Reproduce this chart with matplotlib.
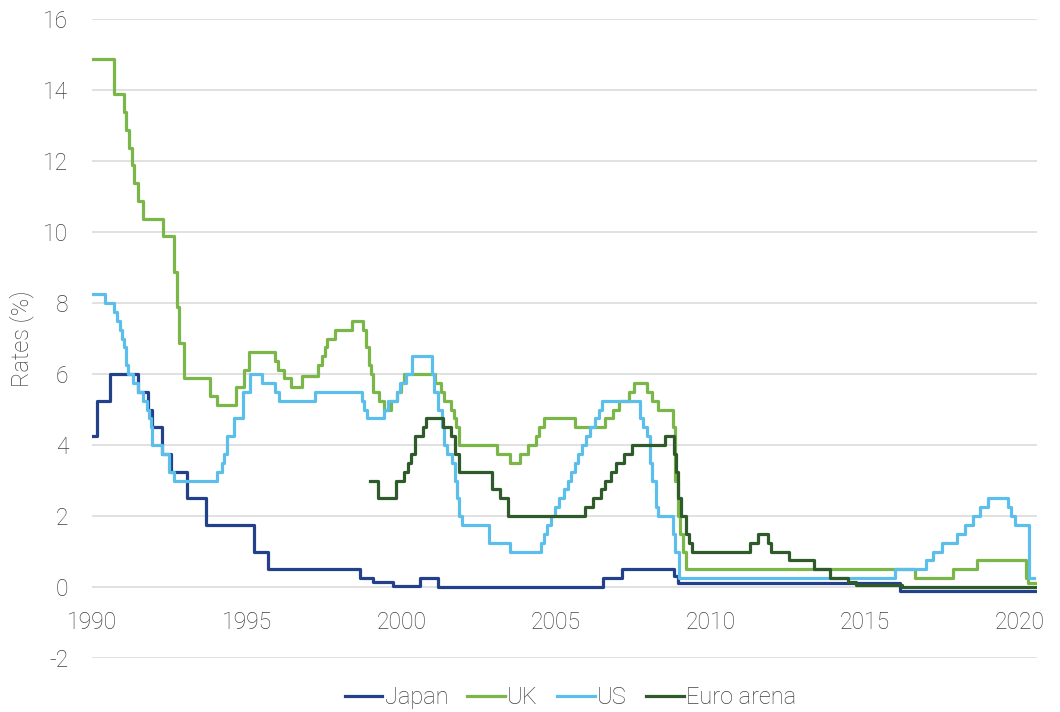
import matplotlib.pyplot as plt

# policy rates, change dates as decimal years (step starts), last entry = end of data
japan_dates = [1990.0, 1990.15, 1990.58, 1991.49, 1991.82, 1991.95, 1992.25, 1992.54,
               1993.07, 1993.69, 1995.24, 1995.68, 1998.66, 1999.08, 1999.73, 2000.6,
               2001.2, 2006.52, 2007.12, 2008.8, 2008.95, 2016.12, 2020.49]
japan_rates = [4.25, 5.25, 6.0, 5.5, 5.0, 4.5, 3.75, 3.25,
               2.5, 1.75, 1.0, 0.5, 0.25, 0.15, 0.03, 0.25,
               0.0, 0.25, 0.5, 0.3, 0.1, -0.1, -0.1]

uk_dates = [1990.0, 1990.7, 1991.05, 1991.1, 1991.2, 1991.28, 1991.35, 1991.5, 1991.65,
            1992.3, 1992.65, 1992.75, 1992.82, 1992.97, 1993.8, 1994.05, 1994.65, 1994.9,
            1995.08, 1995.93, 1996.02, 1996.2, 1996.42, 1996.78, 1997.3, 1997.42, 1997.52,
            1997.6, 1997.85, 1998.42, 1998.75, 1998.85, 1998.95, 1999.02, 1999.1, 1999.28,
            1999.45, 1999.68, 1999.85, 2000.0, 2000.1, 2001.1, 2001.28, 2001.38, 2001.6,
            2001.7, 2001.78, 2001.87, 2003.1, 2003.52, 2003.85, 2004.1, 2004.35, 2004.45,
            2004.6, 2005.6, 2006.6, 2006.85, 2007.05, 2007.35, 2007.52, 2007.95, 2008.1,
            2008.3, 2008.78, 2008.85, 2008.93, 2009.02, 2009.1, 2009.2, 2016.6, 2017.85,
            2018.62, 2020.2, 2020.25, 2020.49]
uk_rates = [14.875, 13.875, 13.375, 12.875, 12.375, 11.875, 11.375, 10.875, 10.375,
            9.875, 8.875, 7.875, 6.875, 5.875, 5.375, 5.125, 5.625, 6.125,
            6.625, 6.375, 6.125, 5.875, 5.625, 5.9375, 6.25, 6.5, 6.75,
            7.0, 7.25, 7.5, 7.25, 6.75, 6.25, 6.0, 5.5, 5.25,
            5.0, 5.25, 5.5, 5.75, 6.0, 5.75, 5.5, 5.25, 5.0,
            4.75, 4.5, 4.0, 3.75, 3.5, 3.75, 4.0, 4.25, 4.5,
            4.75, 4.5, 4.75, 5.0, 5.25, 5.5, 5.75, 5.5, 5.25,
            5.0, 4.5, 3.0, 2.0, 1.5, 1.0, 0.5, 0.25, 0.5,
            0.75, 0.25, 0.1, 0.1]

us_dates = [1990.0, 1990.42, 1990.72, 1990.82, 1990.9, 1990.97, 1991.03, 1991.1, 1991.17,
            1991.32, 1991.49, 1991.65, 1991.78, 1991.85, 1991.9, 1991.95, 1992.25, 1992.5,
            1992.65, 1994.05, 1994.2, 1994.28, 1994.38, 1994.6, 1994.88, 1995.1, 1995.5,
            1995.93, 1996.05, 1997.2, 1998.72, 1998.8, 1998.9, 1999.45, 1999.57, 1999.85,
            1999.97, 2000.15, 2000.35, 2001.0, 2001.05, 2001.2, 2001.3, 2001.38, 2001.48,
            2001.63, 2001.72, 2001.8, 2001.88, 2001.97, 2002.85, 2003.5, 2004.5, 2004.62,
            2004.72, 2004.85, 2004.97, 2005.1, 2005.25, 2005.38, 2005.5, 2005.62, 2005.72,
            2005.85, 2005.97, 2006.1, 2006.25, 2006.38, 2006.5, 2007.72, 2007.8, 2007.95,
            2008.05, 2008.1, 2008.22, 2008.3, 2008.78, 2008.85, 2008.97, 2015.97, 2016.97,
            2017.2, 2017.47, 2017.97, 2018.22, 2018.47, 2018.72, 2018.97, 2019.6, 2019.72,
            2019.85, 2020.3, 2020.45]
us_rates = [8.25, 8.0, 7.75, 7.5, 7.25, 7.0, 6.75, 6.25, 6.0,
            5.75, 5.5, 5.25, 5.0, 4.75, 4.5, 4.0, 3.75, 3.25,
            3.0, 3.25, 3.5, 3.75, 4.25, 4.75, 5.5, 6.0, 5.75,
            5.5, 5.25, 5.5, 5.25, 5.0, 4.75, 5.0, 5.25, 5.5,
            5.75, 6.0, 6.5, 6.0, 5.5, 5.0, 4.5, 4.0, 3.75,
            3.5, 3.0, 2.5, 2.0, 1.75, 1.25, 1.0, 1.25, 1.5,
            1.75, 2.0, 2.25, 2.5, 2.75, 3.0, 3.25, 3.5, 3.75,
            4.0, 4.25, 4.5, 4.75, 5.0, 5.25, 4.75, 4.5, 4.25,
            3.5, 3.0, 2.25, 2.0, 1.5, 1.0, 0.25, 0.5, 0.75,
            1.0, 1.25, 1.5, 1.75, 2.0, 2.25, 2.5, 2.25, 2.0,
            1.75, 0.25, 0.25]

euro_dates = [1999.0, 1999.25, 1999.83, 2000.1, 2000.2, 2000.3, 2000.45, 2000.7, 2000.8,
              2001.35, 2001.6, 2001.72, 2001.87, 2002.93, 2003.2, 2003.45, 2005.95, 2006.2,
              2006.45, 2006.6, 2006.78, 2006.95, 2007.2, 2007.45, 2008.52, 2008.8, 2008.88,
              2008.95, 2009.05, 2009.2, 2009.3, 2009.4, 2011.28, 2011.52, 2011.85, 2011.95,
              2012.52, 2013.35, 2013.85, 2014.45, 2014.7, 2016.2, 2020.49]
euro_rates = [3.0, 2.5, 3.0, 3.25, 3.5, 3.75, 4.25, 4.5, 4.75,
              4.5, 4.25, 3.75, 3.25, 2.75, 2.5, 2.0, 2.25, 2.5,
              2.75, 3.0, 3.25, 3.5, 3.75, 4.0, 4.25, 3.75, 3.25,
              2.5, 2.0, 1.5, 1.25, 1.0, 1.25, 1.5, 1.25, 1.0,
              0.75, 0.5, 0.25, 0.15, 0.05, 0.0, 0.0]

text_color = '#404040'
plt.rcParams['font.family'] = ['Roboto', 'DejaVu Sans']
plt.rcParams['font.weight'] = 'light'
plt.rcParams['axes.labelweight'] = 'light'
plt.rcParams['axes.unicode_minus'] = False

fig = plt.figure(figsize=(10.6, 7.12), dpi=100)
ax = fig.add_axes([0.0868, 0.0758, 0.8915, 0.8975])

ax.plot(japan_dates, japan_rates, drawstyle='steps-post', color='#23418a', lw=2.3, label='Japan')
ax.plot(uk_dates, uk_rates, drawstyle='steps-post', color='#7ab648', lw=2.3, label='UK')
ax.plot(us_dates, us_rates, drawstyle='steps-post', color='#5cbfeb', lw=2.3, label='US')
ax.plot(euro_dates, euro_rates, drawstyle='steps-post', color='#2f5a2a', lw=2.3, label='Euro arena')

ax.set_xlim(1990, 2020.55)
ax.set_ylim(-2, 16)
ax.set_yticks(range(-2, 17, 2))
ax.set_xticks(range(1990, 2021, 5))
ax.grid(axis='y', color='#dcdcdc', lw=1.2)
ax.set_axisbelow(True)

for s in ['top', 'right', 'left', 'bottom']:
    ax.spines[s].set_visible(False)
ax.spines['bottom'].set_position(('data', 0))
ax.tick_params(axis='both', length=0, labelsize=16.5, colors=text_color)
ax.tick_params(axis='x', pad=17)
ax.tick_params(axis='y', pad=17)

ax.set_ylabel('Rates (%)', fontsize=17, fontweight='light', color=text_color, labelpad=7)

fig.legend(loc='center', bbox_to_anchor=(0.538, 0.02), ncol=4, frameon=False,
           fontsize=17, labelcolor=text_color, handlelength=1.6, handletextpad=0.1,
           columnspacing=0.8)

fig.savefig('out.png', dpi=100)
